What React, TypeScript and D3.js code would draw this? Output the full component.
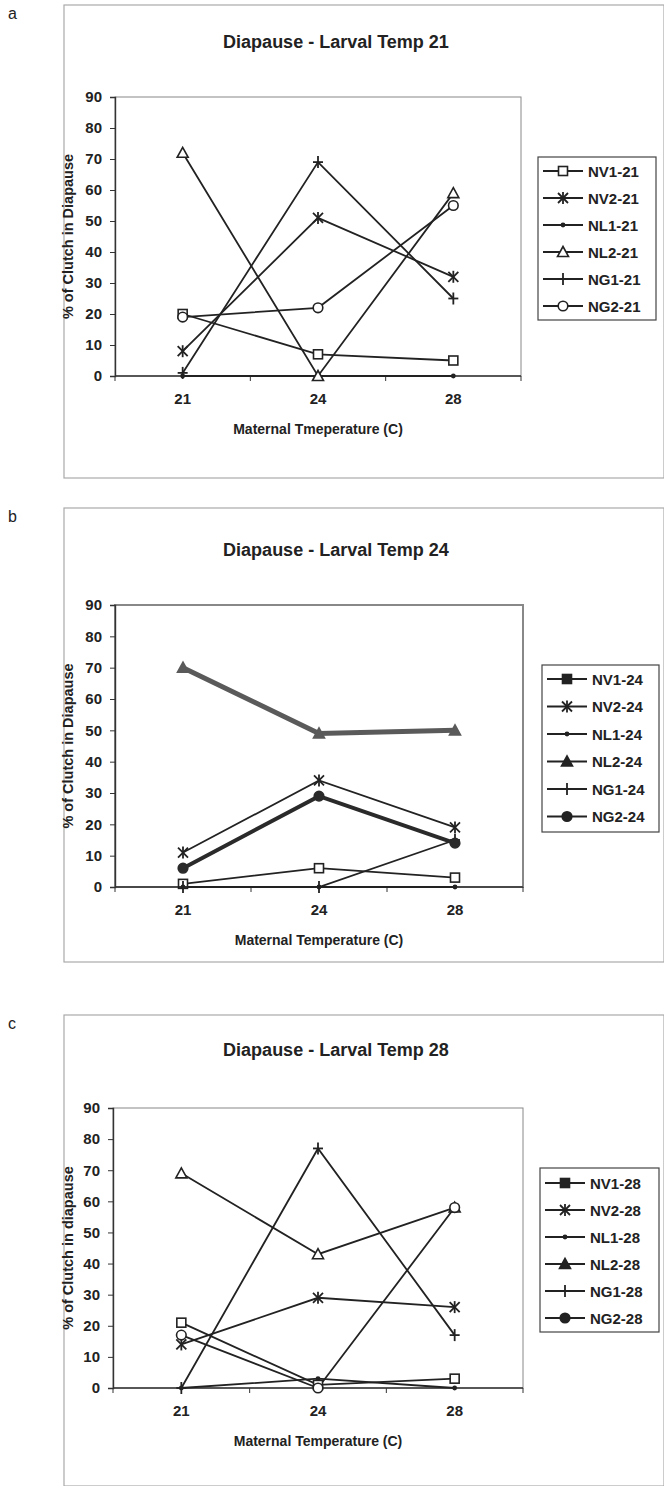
import React, { useEffect, useRef } from 'react';
import * as d3 from 'd3';

const categories = ['21', '24', '28'];
const yTicks = [0, 10, 20, 30, 40, 50, 60, 70, 80, 90];

const seriesA = ['NV1-21', 'NV2-21', 'NL1-21', 'NL2-21', 'NG1-21', 'NG2-21'];
const valuesA = [
  [20, 7, 5],
  [8, 51, 32],
  [0, 0, 0],
  [72, 0, 59],
  [1, 69, 25],
  [19, 22, 55],
];

const seriesB = ['NV1-24', 'NV2-24', 'NL1-24', 'NL2-24', 'NG1-24', 'NG2-24'];
const valuesB = [
  [1, 6, 3],
  [11, 34, 19],
  [0, 0, 0],
  [70, 49, 50],
  [0, 0, 15],
  [6, 29, 14],
];

const seriesC = ['NV1-28', 'NV2-28', 'NL1-28', 'NL2-28', 'NG1-28', 'NG2-28'];
const valuesC = [
  [21, 1, 3],
  [14, 29, 26],
  [0, 3, 0],
  [69, 43, 58],
  [0, 77, 17],
  [17, 0, 58],
];

const markers = ['square', 'asterisk', 'dot', 'triangle', 'plus', 'circle'];
const font = '"Liberation Sans", Arial, sans-serif';

function drawMarker(g, type, x, y, color, filled) {
  const fill = filled ? color : '#fff';
  if (type === 'square') {
    g.append('rect').attr('x', x - 4.5).attr('y', y - 4.5).attr('width', 9).attr('height', 9)
      .attr('fill', fill).attr('stroke', color).attr('stroke-width', 1.6);
  } else if (type === 'asterisk') {
    const s = 5;
    [[-s, -s, s, s], [-s, s, s, -s], [0, -s - 1, 0, s + 1]].forEach(d => {
      g.append('line').attr('x1', x + d[0]).attr('y1', y + d[1]).attr('x2', x + d[2]).attr('y2', y + d[3])
        .attr('stroke', color).attr('stroke-width', 1.8);
    });
  } else if (type === 'dot') {
    g.append('circle').attr('cx', x).attr('cy', y).attr('r', 2.4).attr('fill', color);
  } else if (type === 'triangle') {
    g.append('path').attr('d', `M${x},${y - 5.5}L${x + 5.5},${y + 4.5}L${x - 5.5},${y + 4.5}Z`)
      .attr('fill', fill).attr('stroke', color).attr('stroke-width', 1.6);
  } else if (type === 'plus') {
    g.append('line').attr('x1', x - 5).attr('y1', y).attr('x2', x + 5).attr('y2', y)
      .attr('stroke', color).attr('stroke-width', 1.8);
    g.append('line').attr('x1', x).attr('y1', y - 6).attr('x2', x).attr('y2', y + 6)
      .attr('stroke', color).attr('stroke-width', 1.8);
  } else {
    g.append('circle').attr('cx', x).attr('cy', y).attr('r', 4.8)
      .attr('fill', fill).attr('stroke', color).attr('stroke-width', 1.6);
  }
}

function drawPanel(svg, p) {
  const g = svg.append('g');
  // outer frame of the chart area
  g.append('rect').attr('x', p.frame[0]).attr('y', p.frame[1])
    .attr('width', p.frame[2] - p.frame[0]).attr('height', p.frame[3] - p.frame[1])
    .attr('fill', 'none').attr('stroke', '#aaa').attr('stroke-width', 1.2);
  g.append('text').attr('x', 8).attr('y', p.frame[1] + 14).text(p.letter)
    .attr('font-family', font).attr('font-size', 16).attr('fill', '#222');

  const x = d3.scaleBand().domain(categories).range([p.left, p.right]);
  const y = d3.scaleLinear().domain([0, 90]).range([p.bottom, p.top]);
  const cx = c => x(c) + x.bandwidth() / 2;

  g.append('text').attr('x', p.titleX).attr('y', p.titleY).attr('text-anchor', 'middle')
    .attr('font-family', font).attr('font-weight', 'bold').attr('font-size', 18).attr('fill', '#222')
    .text(p.title);

  g.append('rect').attr('x', p.left).attr('y', p.top).attr('width', p.right - p.left)
    .attr('height', p.bottom - p.top).attr('fill', '#fff').attr('stroke', '#888').attr('stroke-width', p.boxWidth);

  const yAxis = g.append('g').attr('transform', `translate(${p.left},0)`)
    .call(d3.axisLeft(y).tickValues(yTicks).tickSize(5).tickPadding(8));
  yAxis.select('.domain').attr('stroke', '#333').attr('stroke-width', 1.4);
  yAxis.selectAll('line').attr('stroke', '#333');
  yAxis.selectAll('text').attr('font-family', font).attr('font-weight', 'bold').attr('font-size', 15).attr('fill', '#222');

  const bounds = [p.left, ...categories.map(c => x(c) + x.bandwidth())];
  const xAxis = g.append('g');
  xAxis.append('line').attr('x1', p.left).attr('x2', p.right).attr('y1', p.bottom).attr('y2', p.bottom)
    .attr('stroke', '#333').attr('stroke-width', 1.4);
  bounds.forEach(b => {
    xAxis.append('line').attr('x1', b).attr('x2', b).attr('y1', p.bottom).attr('y2', p.bottom + 5)
      .attr('stroke', '#333');
  });
  categories.forEach(c => {
    xAxis.append('text').attr('x', cx(c)).attr('y', p.bottom + 28)
      .attr('text-anchor', 'middle').attr('font-family', font).attr('font-weight', 'bold')
      .attr('font-size', 15).attr('fill', '#222').text(c);
  });
  g.append('text').attr('x', (p.left + p.right) / 2).attr('y', p.bottom + 58).attr('text-anchor', 'middle')
    .attr('font-family', font).attr('font-weight', 'bold').attr('font-size', 14).attr('fill', '#222')
    .text(p.xTitle);
  g.append('text').attr('transform', `translate(73,${(p.top + p.bottom) / 2}) rotate(-90)`)
    .attr('text-anchor', 'middle').attr('font-family', font).attr('font-weight', 'bold')
    .attr('font-size', 14.5).attr('fill', '#222').text(p.yTitle);

  const line = d3.line().x((d, i) => cx(categories[i])).y(d => y(d));
  p.values.forEach((vals, si) => {
    const st = p.styles[si] || {};
    g.append('path').datum(vals).attr('d', line).attr('fill', 'none')
      .attr('stroke', st.color || '#222').attr('stroke-width', st.width || 1.8);
  });
  p.values.forEach((vals, si) => {
    const st = p.styles[si] || {};
    vals.forEach((v, i) => {
      drawMarker(g, markers[si], cx(categories[i]), y(v), st.color || '#222', st.filled);
    });
  });

  // legend
  const lg = g.append('g');
  lg.append('rect').attr('x', p.legend[0]).attr('y', p.legend[1])
    .attr('width', p.legend[2] - p.legend[0]).attr('height', p.legend[3] - p.legend[1])
    .attr('fill', '#fff').attr('stroke', '#444').attr('stroke-width', 1.2);
  p.names.forEach((n, i) => {
    const ry = p.legendRow + i * p.legendStep;
    const lx = p.legend[0] + 5;
    lg.append('line').attr('x1', lx).attr('x2', lx + 40).attr('y1', ry).attr('y2', ry)
      .attr('stroke', '#222').attr('stroke-width', 1.8);
    drawMarker(lg, markers[i], lx + 20, ry, '#222', p.legendFilled);
    lg.append('text').attr('x', lx + 45).attr('y', ry + 5.5).attr('font-family', font)
      .attr('font-weight', 'bold').attr('font-size', 15).attr('fill', '#222').text(n);
  });
}

const panels = [
  {
    letter: 'a', frame: [64, 5, 664, 478], left: 115, right: 521, top: 97, bottom: 376,
    titleX: 336, titleY: 48, title: 'Diapause - Larval Temp 21', boxWidth: 1,
    xTitle: 'Maternal Tmeperature (C)', yTitle: '% of Clutch in Diapause',
    names: seriesA, values: valuesA, styles: [],
    legend: [538, 157, 656, 320], legendRow: 171, legendStep: 27, legendFilled: false,
  },
  {
    letter: 'b', frame: [64, 508, 664, 962], left: 115, right: 523, top: 605, bottom: 887,
    titleX: 336, titleY: 556, title: 'Diapause - Larval Temp 24', boxWidth: 2,
    xTitle: 'Maternal Temperature (C)', yTitle: '% of Clutch in Diapause',
    names: seriesB, values: valuesB,
    styles: [{}, {}, {}, { color: '#5a5a5a', width: 5, filled: true }, {}, { color: '#2a2a2a', width: 4, filled: true }],
    legend: [542, 665, 659, 832], legendRow: 679, legendStep: 27.5, legendFilled: true,
  },
  {
    letter: 'c', frame: [64, 1015, 664, 1486], left: 113, right: 523, top: 1108, bottom: 1388,
    titleX: 336, titleY: 1056, title: 'Diapause - Larval Temp 28', boxWidth: 1,
    xTitle: 'Maternal Temperature (C)', yTitle: '% of Clutch in diapause',
    names: seriesC, values: valuesC, styles: [],
    legend: [540, 1168, 659, 1332], legendRow: 1183, legendStep: 27, legendFilled: true,
  },
];

export default function App() {
  const ref = useRef(null);
  useEffect(() => {
    const svg = d3.select(ref.current);
    svg.selectAll('*').remove();
    svg.append('rect').attr('width', 664).attr('height', 1486).attr('fill', '#fff');
    panels.forEach(p => drawPanel(svg, p));
  }, []);
  return (
    <svg ref={ref} width={664} height={1486}
      style={{ position: 'absolute', left: 0, top: 0, display: 'block' }}></svg>
  );
}
